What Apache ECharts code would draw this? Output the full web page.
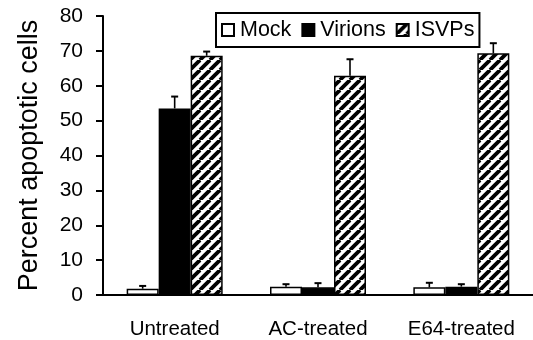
<!DOCTYPE html>
<html>
<head>
<meta charset="utf-8">
<script src="https://cdn.jsdelivr.net/npm/echarts@6/dist/echarts.min.js"></script>
<style>html,body{margin:0;padding:0;background:#fff;}#c{width:533px;height:340px;}</style>
</head>
<body>
<div id="c"></div>
<script>
const categories = ['Untreated', 'AC-treated', 'E64-treated'];
const seriesNames = ['Mock', 'Virions', 'ISVPs'];
const mock = [1.8, 2.4, 2.2];
const mockErr = [0.8, 0.7, 1.3];
const virions = [53.5, 2.2, 2.4];
const virionsErr = [3.4, 1.2, 0.7];
const isvps = [68.6, 62.9, 69.3];
const isvpsErr = [1.2, 4.7, 2.9];
const yTicks = [0, 10, 20, 30, 40, 50, 60, 70, 80];

const FONT = "'Liberation Sans', Arial, sans-serif";

// hatched pattern
const pc = document.createElement('canvas');
pc.width = 10; pc.height = 10;
const g = pc.getContext('2d');
g.fillStyle = '#fff'; g.fillRect(0, 0, 10, 10);
g.strokeStyle = '#000'; g.lineWidth = 3.8;
for (const x0 of [-10, 0, 10]) {
  g.beginPath(); g.moveTo(x0, 10); g.lineTo(x0 + 10, 0); g.stroke();
}
const hatch = { image: pc, repeat: 'repeat' };

const BW = 32;
function errSeries(vals, errs, offset) {
  return {
    type: 'custom',
    z: 5,
    silent: true,
    data: vals.map((v, i) => [i, v + errs[i], v]),
    renderItem: function (params, api) {
      const top = api.coord([api.value(0), api.value(1)]);
      const base = api.coord([api.value(0), api.value(2)]);
      const x = top[0] + offset;
      return {
        type: 'group',
        children: [
          { type: 'line', shape: { x1: x, y1: base[1], x2: x, y2: top[1] }, style: { stroke: '#000', lineWidth: 1.6 } },
          { type: 'line', shape: { x1: x - 3.5, y1: top[1], x2: x + 3.5, y2: top[1] }, style: { stroke: '#000', lineWidth: 2 } }
        ]
      };
    }
  };
}

const chart = echarts.init(document.getElementById('c'), null, { renderer: 'canvas' });
chart.setOption({
  animation: false,
  backgroundColor: '#fff',
  textStyle: { fontFamily: FONT },
  grid: { left: 103, right: -5, top: 16, bottom: 45, containLabel: false },
  legend: {
    left: 216, top: 13,
    z: 10,
    data: seriesNames,
    orient: 'horizontal',
    borderColor: '#000', borderWidth: 2,
    padding: [6, 5, 6, 5],
    itemWidth: 12, itemHeight: 12, itemGap: 10,
    icon: 'rect',
    backgroundColor: '#fff',
    textStyle: { fontSize: 21.5, color: '#000', fontFamily: FONT, padding: [0, 0, 0, 1] }
  },
  xAxis: {
    type: 'category',
    data: categories,
    axisLine: { lineStyle: { color: '#000', width: 2 } },
    axisTick: { show: false },
    axisLabel: { color: '#000', fontSize: 20.5, margin: 24, fontFamily: FONT }
  },
  yAxis: {
    type: 'value',
    min: yTicks[0], max: yTicks[yTicks.length - 1], interval: 10,
    name: 'Percent apoptotic cells',
    nameLocation: 'middle',
    nameGap: 60,
    nameTextStyle: { color: '#000', fontSize: 27, fontFamily: FONT },
    axisLine: { show: true, lineStyle: { color: '#000', width: 2 } },
    axisTick: { show: true, inside: false, length: 7, lineStyle: { color: '#000', width: 2 } },
    axisLabel: { color: '#000', fontSize: 21, margin: 20, fontFamily: FONT },
    splitLine: { show: false }
  },
  series: [
    { name: 'Mock', type: 'bar', data: mock, barWidth: BW, barGap: '0%',
      itemStyle: { color: '#fff', borderColor: '#000', borderWidth: 1.5 } },
    { name: 'Virions', type: 'bar', data: virions, barWidth: BW, barGap: '0%',
      itemStyle: { color: '#000', borderColor: '#000', borderWidth: 1.5 } },
    { name: 'ISVPs', type: 'bar', data: isvps, barWidth: BW, barGap: '0%',
      itemStyle: { color: hatch, borderColor: '#000', borderWidth: 1.5 } },
    errSeries(mock, mockErr, -BW),
    errSeries(virions, virionsErr, 0),
    errSeries(isvps, isvpsErr, BW)
  ]
});
</script>
</body>
</html>
